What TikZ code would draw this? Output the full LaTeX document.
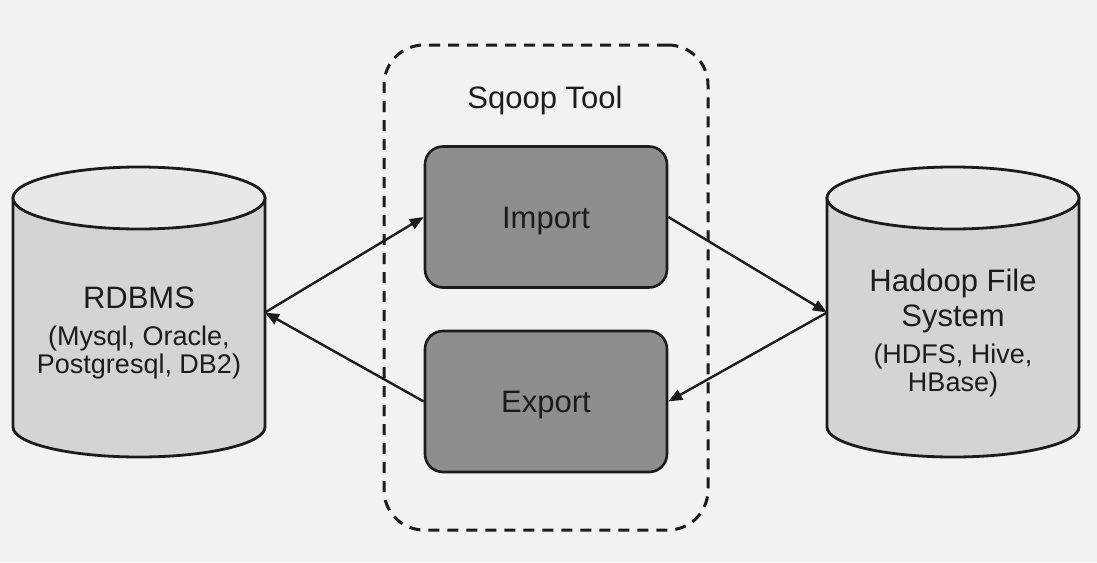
\documentclass[tikz,border=0pt]{standalone}
\usepackage{fontspec}
\setmainfont{Liberation Sans}
\usetikzlibrary{arrows.meta,positioning}
\definecolor{PageGray}{RGB}{242,242,242}
\definecolor{DrumSide}{RGB}{212,212,212}
\definecolor{DrumTop}{RGB}{232,232,232}
\definecolor{StepGray}{RGB}{142,142,142}
\definecolor{InkBlack}{RGB}{28,28,28}
\newcommand{\maintxt}{\fontsize{15.5}{18.5}\selectfont}
\newcommand{\subtxt}{\fontsize{13.5}{14.25}\selectfont}

\begin{document}
\begin{tikzpicture}[x=.5pt,y=.5pt,
  drum/.style={inner sep=0pt,outer sep=0pt,minimum width=126pt,minimum height=114.5pt},
  drumtxt/.style={align=center,text=InkBlack,font=\subtxt},
  stepbox/.style={draw=InkBlack,line width=1.3pt,fill=StepGray,rounded corners=9pt,minimum width=121pt,minimum height=70.5pt,text height=11pt,text depth=0pt,font=\maintxt,text=InkBlack},
  flow/.style={-{Triangle[length=7pt,width=5.5pt]},line width=1.2pt,InkBlack}]
\fill[PageGray] (0,0) rectangle (1097,-562);
\useasboundingbox (0,0) rectangle (1097,-562);
% sqoop frame
\node[draw=InkBlack,line width=1.5pt,dash pattern=on 5.5pt off 4pt,rounded corners=20pt,minimum width=162pt,minimum height=242.5pt] (sqoop) at (546,-287.5){};
\node[font=\maintxt,text=InkBlack] (sqooptitle) at (545,-100){Sqoop Tool};
\node[stepbox] (import) at (546,-217){Import};
\node[stepbox] (export) at (546,-401.5){Export};
% the two stores
\foreach \nm/\cx in {rdbms/139,hdfs/953}{
  \node[drum] (\nm) at (\cx,-312.5){};
  \draw[fill=DrumSide,line width=1.4pt,draw=InkBlack] (\nm.north west) -- (\nm.south west) arc[start angle=180,end angle=360,x radius=126,y radius=30] -- (\nm.north east) -- cycle;
  \draw[fill=DrumTop,line width=1.4pt,draw=InkBlack] (\nm.north) ellipse[x radius=126,y radius=31];
}
\node[drumtxt] (rdbmstxt) at ([yshift=-10.25pt]rdbms.center){\maintxt RDBMS\\[4pt](Mysql, Oracle,\\Postgresql, DB2)};
\node[drumtxt] (hdfstxt) at ([yshift=-10.25pt]hdfs.center){\maintxt Hadoop File\\[3.5pt]\maintxt System\\[4pt](HDFS, Hive,\\HBase)};
\draw[flow] (rdbms.east) -- (import.west);
\draw[flow] (import.east) -- (hdfs.west);
\draw[flow] (hdfs.west) -- (export.east);
\draw[flow] (export.west) -- (rdbms.east);
\end{tikzpicture}
\end{document}
